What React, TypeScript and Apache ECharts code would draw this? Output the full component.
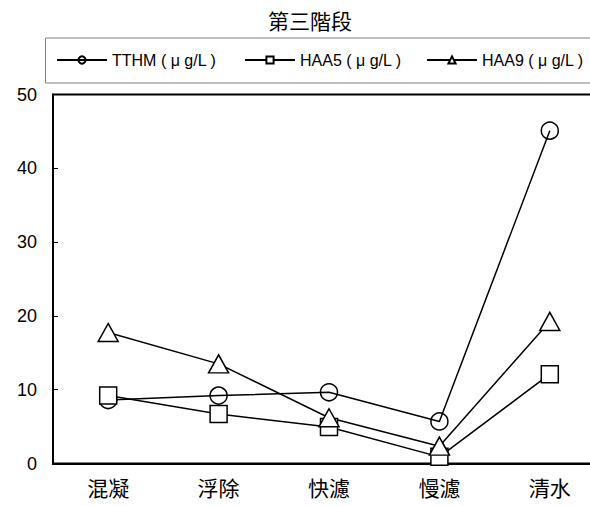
import React, { useEffect, useRef } from "react";
import * as echarts from "echarts";

// Treatment stages along the x axis
const stages = ["混凝", "浮除", "快濾", "慢濾", "清水"];

// Series names shown in the legend
const seriesNames = ["TTHM ( μ g/L )", "HAA5 ( μ g/L )", "HAA9 ( μ g/L )"];

// Disinfection by-product concentrations per stage (μg/L)
const tthm = [8.6, 9.2, 9.65, 5.7, 45.1];
const haa5 = [9.2, 6.7, 4.95, 0.9, 12.1];
const haa9 = [17.75, 13.5, 6.2, 2.35, 19.25];

const yTicks = { min: 0, max: 50, interval: 10 };

const titleText = "第三階段";

const latin = "'Liberation Sans', Arial, 'Noto Sans CJK TC', sans-serif";
const cjk = "'Noto Sans CJK TC', 'Liberation Sans', sans-serif";

export default function App() {
  const ref = useRef<HTMLDivElement>(null);

  useEffect(() => {
    if (!ref.current) return;
    const chart = echarts.init(ref.current, undefined, { renderer: "svg" });

    const lineStyle = { color: "#000", width: 1.5 };
    const legendBase = {
      top: 52,
      padding: 0,
      itemWidth: 50,
      itemHeight: 9,
      itemGap: 0,
      textStyle: { fontSize: 16, fontFamily: latin, color: "#000" },
    };

    chart.setOption({
      animation: false,
      backgroundColor: "#fff",
      title: {
        text: titleText,
        left: "center",
        top: 9,
        padding: 0,
        textStyle: { fontSize: 21, fontWeight: "normal", fontFamily: cjk, color: "#000" },
      },
      legend: [
        { ...legendBase, left: 56, data: [seriesNames[0]] },
        { ...legendBase, left: 244, data: [seriesNames[1]] },
        { ...legendBase, left: 426, data: [seriesNames[2]] },
      ],
      graphic: [
        {
          type: "rect",
          shape: { x: 45.5, y: 38, width: 600, height: 45 },
          style: { fill: "none", stroke: "#808080", lineWidth: 1 },
          silent: true,
        },
      ],
      grid: {
        left: 53,
        right: 15,
        top: 94.5,
        bottom: 42.5,
        show: true,
        borderColor: "#000",
        borderWidth: 2,
        backgroundColor: "transparent",
      },
      xAxis: {
        type: "category",
        data: stages,
        boundaryGap: true,
        axisLine: { lineStyle: { color: "#000", width: 2 } },
        axisTick: { inside: true, length: 5, lineStyle: { color: "#000", width: 1 } },
        axisLabel: { fontSize: 21, fontFamily: cjk, color: "#000", margin: 13 },
        splitLine: { show: false },
      },
      yAxis: {
        type: "value",
        min: yTicks.min,
        max: yTicks.max,
        interval: yTicks.interval,
        axisLine: { show: true, lineStyle: { color: "#000", width: 2 } },
        axisTick: { show: true, inside: true, length: 5, lineStyle: { color: "#000", width: 1 } },
        axisLabel: { fontSize: 18, fontFamily: latin, color: "#000", margin: 16 },
        splitLine: { show: false },
      },
      series: [
        {
          name: seriesNames[0],
          type: "line",
          data: tthm,
          symbol: "circle",
          symbolSize: 17,
          lineStyle,
          itemStyle: { color: "none", borderColor: "#000", borderWidth: 1.5 },
        },
        {
          name: seriesNames[1],
          type: "line",
          data: haa5,
          symbol: "rect",
          symbolSize: 17,
          lineStyle,
          itemStyle: { color: "#fff", borderColor: "#000", borderWidth: 1.5 },
        },
        {
          name: seriesNames[2],
          type: "line",
          data: haa9,
          symbol: "triangle",
          symbolSize: [20, 18],
          lineStyle,
          itemStyle: { color: "#fff", borderColor: "#000", borderWidth: 1.5 },
        },
      ],
    });

    return () => chart.dispose();
  }, []);

  return (
    <div
      style={{
        position: "absolute",
        left: 0,
        top: 0,
        width: 590,
        height: 506,
        overflow: "hidden",
        background: "#fff",
      }}
    >
      <div ref={ref} style={{ width: 620, height: 506 }} />
    </div>
  );
}
